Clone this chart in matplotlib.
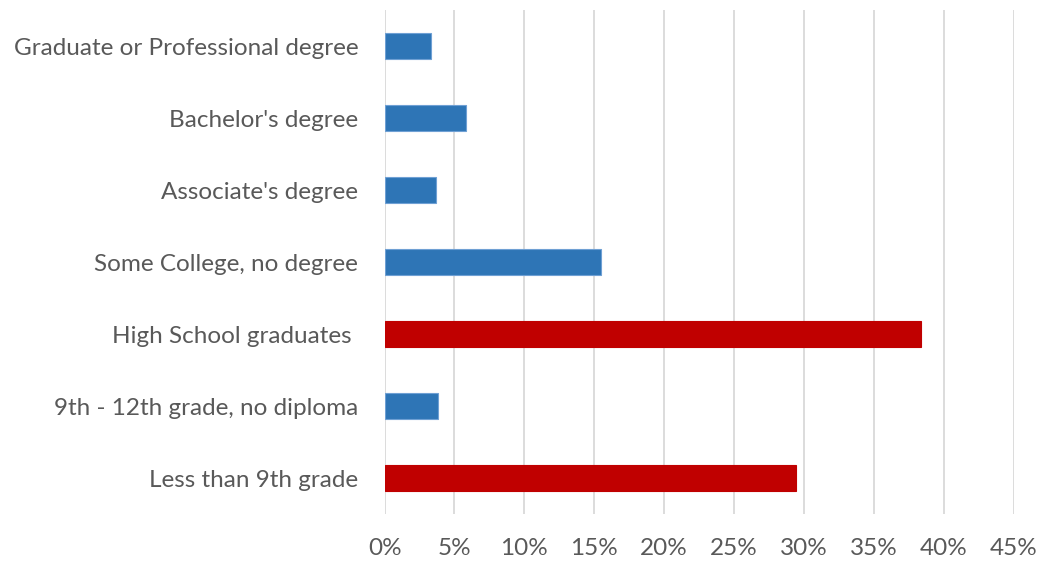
import numpy as np
import matplotlib.pyplot as plt
from matplotlib.ticker import PercentFormatter

# ── Data ────────────────────────────────────────────────────────────────
categories = [
    "Less than 9th grade",
    "9th - 12th grade, no diploma",
    "High School graduates ",
    "Some College, no degree",
    "Associate's degree",
    "Bachelor's degree",
    "Graduate or Professional degree",
]
shares = [29.4, 3.8, 38.4, 15.5, 3.7, 5.8, 3.3]
highlight = [True, False, True, False, False, False, False]

BLUE = "#2E75B6"
BLUE_EDGE = "#6FA0D4"
RED = "#C00000"
GRID = "#D9D9D9"
TXT = "#595959"

plt.rcParams["font.family"] = ["Lato", "DejaVu Sans"]

fig = plt.figure(figsize=(10.38, 5.62), dpi=100, facecolor="white")
ax = fig.add_axes([0.3705, 0.0854, 0.6061, 0.8966])

y = np.arange(len(categories))
colors = [RED if h else BLUE for h in highlight]
edges = [RED if h else BLUE_EDGE for h in highlight]
ax.barh(y, shares, height=0.36, color=colors, edgecolor=edges, linewidth=0.8, zorder=3)

ax.set_xlim(0, 45)
ax.set_ylim(-0.5, len(categories) - 0.5)
ax.set_xticks(np.arange(0, 46, 5))
ax.xaxis.set_major_formatter(PercentFormatter(decimals=0))
ax.set_yticks(y)
ax.set_yticklabels(categories)

ax.grid(axis="x", color=GRID, linewidth=1.3, zorder=0)
for s in ax.spines.values():
    s.set_visible(False)
ax.tick_params(axis="both", length=0, labelsize=17.5, labelcolor=TXT)
ax.tick_params(axis="x", pad=17)
ax.tick_params(axis="y", pad=19)

fig.savefig("out.png", dpi=100, facecolor="white")
